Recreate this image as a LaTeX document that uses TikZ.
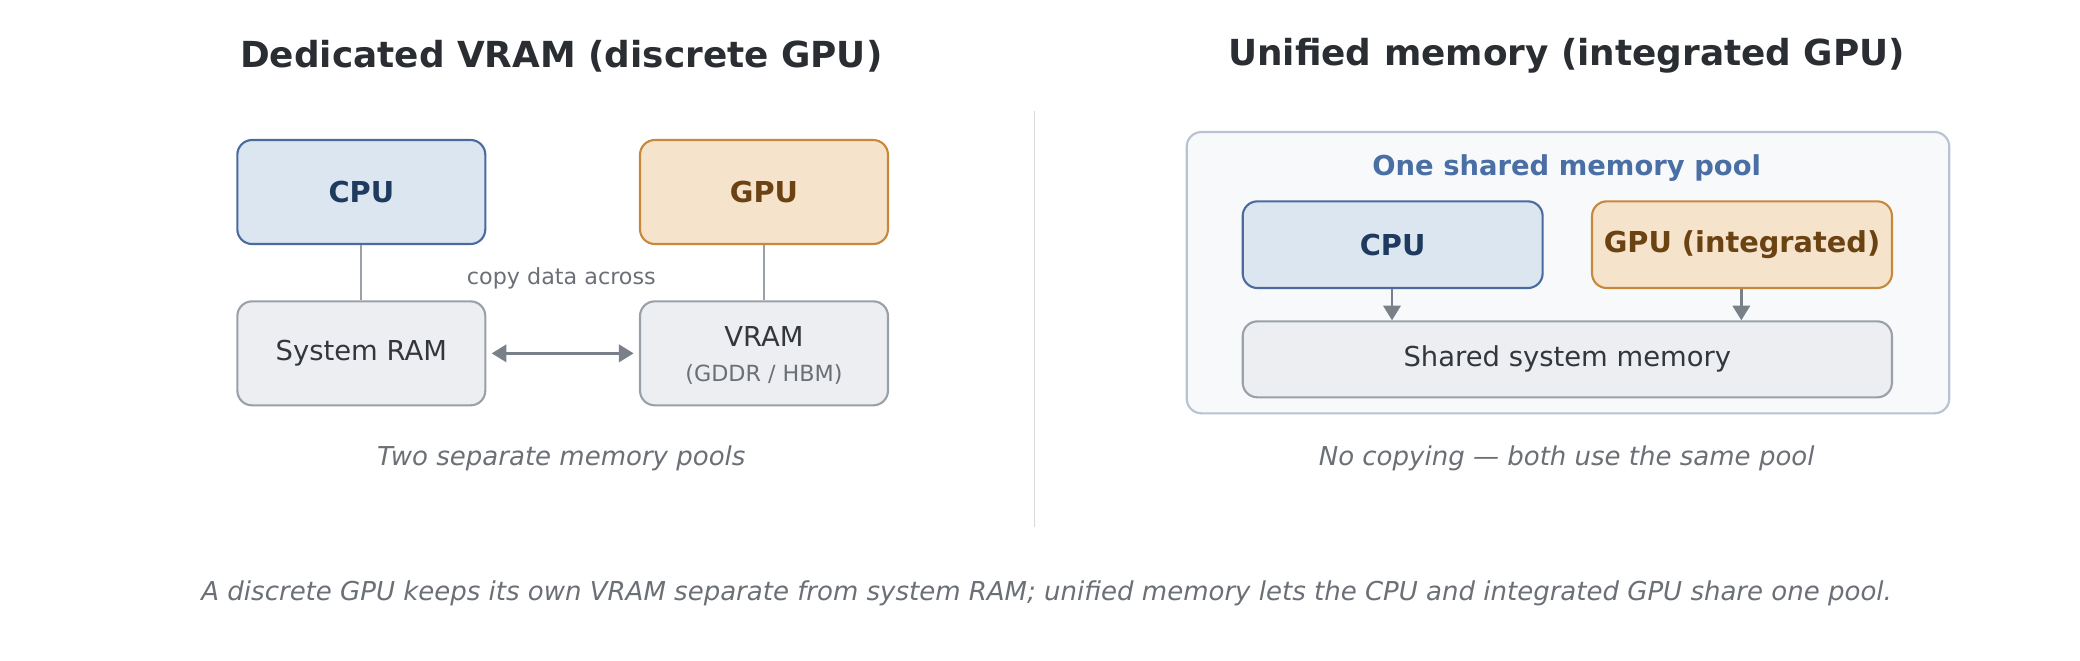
\documentclass[tikz,border=0pt]{standalone}
\usepackage{fontspec}
\setmainfont{DejaVu Sans}
\usetikzlibrary{positioning, shapes, arrows.meta}
\definecolor{cpufill}{HTML}{DCE6F0}
\definecolor{cpuline}{HTML}{4A6AA0}
\definecolor{cputext}{HTML}{1F3A5F}
\definecolor{gpufill}{HTML}{F5E3CC}
\definecolor{gpuline}{HTML}{C8883C}
\definecolor{gputext}{HTML}{6B4212}
\definecolor{memfill}{HTML}{ECEEF1}
\definecolor{memline}{HTML}{9AA0A8}
\definecolor{memtext}{HTML}{33373D}
\definecolor{arrowcol}{HTML}{7A808A}
\definecolor{captext}{HTML}{6B6F76}
\definecolor{titletext}{HTML}{2A2E33}
\definecolor{poolfill}{HTML}{F8F9FB}
\definecolor{poolline}{HTML}{B7C3D3}
\definecolor{pooltext}{HTML}{4A6FA5}
\tikzset{
  box/.style={rectangle, rounded corners=0.22cm, line width=0.9pt, inner sep=0pt},
  cpubox/.style={box, draw=cpuline, fill=cpufill, text=cputext, font=\fontsize{12.3}{14}\selectfont\bfseries},
  gpubox/.style={box, draw=gpuline, fill=gpufill, text=gputext, font=\fontsize{12.3}{14}\selectfont\bfseries},
  membox/.style={box, draw=memline, fill=memfill, text=memtext, font=\fontsize{11.7}{14}\selectfont},
  title/.style={text=titletext, font=\fontsize{15.3}{18}\selectfont\bfseries},
  caption/.style={text=captext, font=\fontsize{11.1}{13}\selectfont\itshape},
  link/.style={draw=memline, line width=0.9pt},
  flow/.style={draw=arrowcol, line width=1.1pt, -{Triangle[length=0.22cm, width=0.26cm]}}
}
\begin{document}
\begin{tikzpicture}[x=0.02cm, y=-0.02cm]
\useasboundingbox (0,0) rectangle (1560,495);
% Titel links
\node[title] (ltitle) at (421,42) {Dedicated VRAM (discrete GPU)};
\node[title] (rtitle) at (1175,42) {Unified memory (integrated GPU)};
% Trennlinie
\draw[draw=black!15, line width=0.7pt] (776,83) -- (776,395);

% diskrete GPU
\node[cpubox, minimum width=3.72cm, minimum height=1.56cm] (dcpu) at (271,144) {CPU};
\node[gpubox, minimum width=3.72cm, minimum height=1.56cm] (dgpu) at (573,144) {GPU};
\node[membox, minimum width=3.72cm, minimum height=1.56cm] (sram) at (271,265) {System RAM};
\node[membox, minimum width=3.72cm, minimum height=1.56cm] (vram) at (573,265) {};
\node[text=memtext, font=\fontsize{11.7}{14}\selectfont] (vramlbl) at (573,252) {VRAM};
\node[text=captext, font=\fontsize{9.5}{11}\selectfont] (vramsub) at (573,281) {(GDDR / HBM)};
\draw[link] (dcpu) -- (sram);
\draw[link] (dgpu) -- (vram);
\draw[flow, {Triangle[length=0.22cm, width=0.26cm]}-{Triangle[length=0.22cm, width=0.26cm]}] ([xshift=0.08cm]sram.east) -- ([xshift=-0.08cm]vram.west);
\node[text=captext, font=\fontsize{9.5}{11}\selectfont] (copylbl) at (421,209) {copy data across};
\node[caption] (lcap) at (421,344) {Two separate memory pools};

% unified memory
\node[box, draw=poolline, fill=poolfill, minimum width=11.44cm, minimum height=4.22cm] (pool) at (1176,204.5) {};
\node[text=pooltext, font=\fontsize{11.7}{14}\selectfont\bfseries] (poollbl) at (1175,126) {One shared memory pool};
\node[cpubox, minimum width=4.5cm, minimum height=1.3cm] (ucpu) at (1044.5,183.5) {CPU};
\node[gpubox, minimum width=4.5cm, minimum height=1.3cm] (ugpu) at (1306.5,183.5) {GPU (integrated)};
\node[membox, minimum width=9.74cm, minimum height=1.14cm] (shmem) at (1175.5,269.5) {Shared system memory};
\draw[flow] (ucpu.south -| 1044,0) -- (shmem.north -| 1044,0);
\draw[flow] (ugpu.south -| 1306,0) -- (shmem.north -| 1306,0);
\node[caption] (rcap) at (1175,344) {No copying — both use the same pool};

% Bildunterschrift
\node[caption] (bottom) at (785,445) {A discrete GPU keeps its own VRAM separate from system RAM; unified memory lets the CPU and integrated GPU share one pool.};
\end{tikzpicture}
\end{document}
